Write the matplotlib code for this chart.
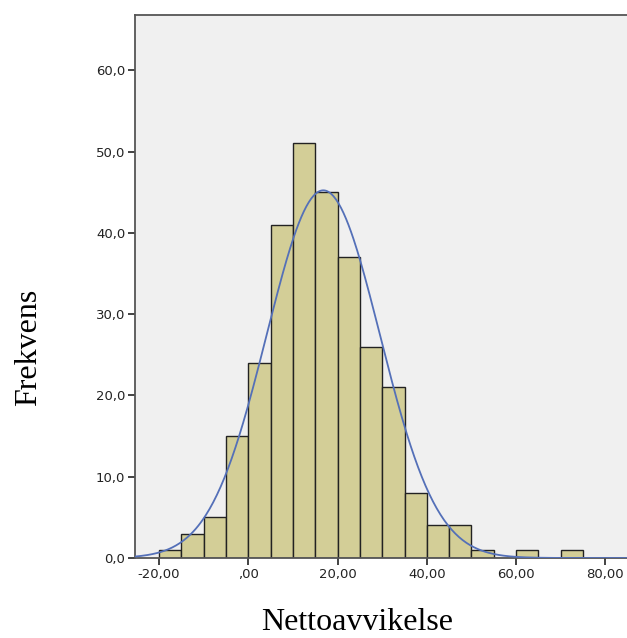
import numpy as np
from matplotlib import pyplot as plt

# histogram data (bin width 5)
bin_edges = [-20, -15, -10, -5, 0, 5, 10, 15, 20, 25, 30, 35, 40, 45, 50, 55, 60, 65, 70, 75]
counts = [1, 3, 5, 15, 24, 41, 51, 45, 37, 26, 21, 8, 4, 4, 1, 0, 1, 0, 1]
mean = 16.8
sd = 12.7

x_ticks = [-20, 0, 20, 40, 60, 80]
x_labels = ["-20,00", ",00", "20,00", "40,00", "60,00", "80,00"]
y_ticks = [0, 10, 20, 30, 40, 50, 60]
y_labels = ["0,0", "10,0", "20,0", "30,0", "40,0", "50,0", "60,0"]

fig = plt.figure(figsize=(6.27, 6.38), dpi=100)
ax = fig.add_axes([0.2153, 0.1254, 0.79, 0.851])
ax.set_facecolor("#f0f0f0")

lefts = bin_edges[:-1]
widths = np.diff(bin_edges)
ax.bar(lefts, counts, width=widths, align="edge", color="#d3ce97",
       edgecolor="#222222", linewidth=1.0, zorder=2)

xs = np.linspace(-25.4, 85.6, 400)
n = sum(counts)
ys = n * 5 / (sd * np.sqrt(2 * np.pi)) * np.exp(-0.5 * ((xs - mean) / sd) ** 2)
ax.plot(xs, ys, color="#5470b8", linewidth=1.3, zorder=3)

ax.set_xlim(-25.4, 85.6)
ax.set_ylim(0, 66.8)
ax.set_xticks(x_ticks)
ax.set_xticklabels(x_labels)
ax.set_yticks(y_ticks)
ax.set_yticklabels(y_labels)
ax.tick_params(labelsize=9.5, colors="#222222", length=5, width=1.2, pad=2)
for s in ["left", "bottom", "top"]:
    ax.spines[s].set_color("#555555")
    ax.spines[s].set_linewidth(1.3)
ax.spines["right"].set_visible(False)

fig.text(0.045, 0.455, "Frekvens", rotation=90, ha="center", va="center",
         family="Liberation Serif", fontsize=23)
fig.text(0.57, 0.024, "Nettoavvikelse", ha="center", va="center",
         family="Liberation Serif", fontsize=23)

fig.savefig("out.png", dpi=100)
